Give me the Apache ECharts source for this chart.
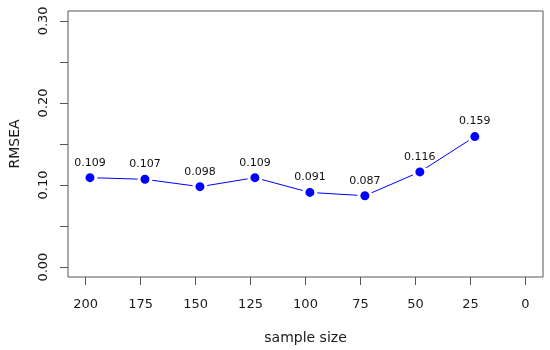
<!DOCTYPE html>
<html>
<head>
<meta charset="utf-8">
<script src="https://cdn.jsdelivr.net/npm/echarts@6/dist/echarts.min.js"></script>
<style>html,body{margin:0;padding:0;background:#fff}#c{width:550px;height:350px}</style>
</head>
<body>
<div id="c"></div>
<script>
const sampleSize = [198, 173, 148, 123, 98, 73, 48, 23];
const rmsea = [0.109, 0.107, 0.098, 0.109, 0.091, 0.087, 0.116, 0.159];
const xTicks = [0, 25, 50, 75, 100, 125, 150, 175, 200];
const yTicks = [0, 0.05, 0.10, 0.15, 0.20, 0.25, 0.30];
const yLabels = [0, 0.10, 0.20, 0.30];

const font = 'DejaVu Sans';
const chart = echarts.init(document.getElementById('c'));
chart.setOption({
  animation: false,
  backgroundColor: '#fff',
  grid: { left: 68, right: 7, top: 11, bottom: 72, show: true, borderColor: '#555', borderWidth: 1, backgroundColor: 'transparent' },
  xAxis: {
    type: 'value', inverse: true, min: -8, max: 208,
    name: 'sample size', nameLocation: 'middle', nameGap: 54,
    nameTextStyle: { fontFamily: font, fontSize: 14, color: '#1a1a1a' },
    axisLine: { show: false, onZero: false },
    splitLine: { show: false },
    axisTick: { show: true, inside: false, length: 8, lineStyle: { color: '#555' }, customValues: xTicks },
    axisLabel: { fontFamily: font, fontSize: 13, color: '#1a1a1a', margin: 21, customValues: xTicks }
  },
  yAxis: {
    type: 'value', min: -0.012, max: 0.312,
    name: 'RMSEA', nameLocation: 'middle', nameGap: 46,
    nameTextStyle: { fontFamily: font, fontSize: 14, color: '#1a1a1a' },
    axisLine: { show: false, onZero: false },
    splitLine: { show: false },
    axisTick: { show: true, inside: false, length: 8, lineStyle: { color: '#555' }, customValues: yTicks },
    axisLabel: { fontFamily: font, fontSize: 13, color: '#1a1a1a', margin: 18, rotate: 90, customValues: yLabels,
      formatter: v => v.toFixed(2) }
  },
  series: [{
    type: 'line',
    data: sampleSize.map((s, i) => [s, rmsea[i]]),
    lineStyle: { color: '#0000ff', width: 1 },
    itemStyle: { color: '#0000ff', borderColor: '#fff', borderWidth: 3 },
    symbol: 'circle', symbolSize: 12,
    label: { show: true, position: 'top', distance: 2, fontFamily: font, fontSize: 11, color: '#111',
      formatter: p => p.value[1].toFixed(3) }
  }]
});
</script>
</body>
</html>
